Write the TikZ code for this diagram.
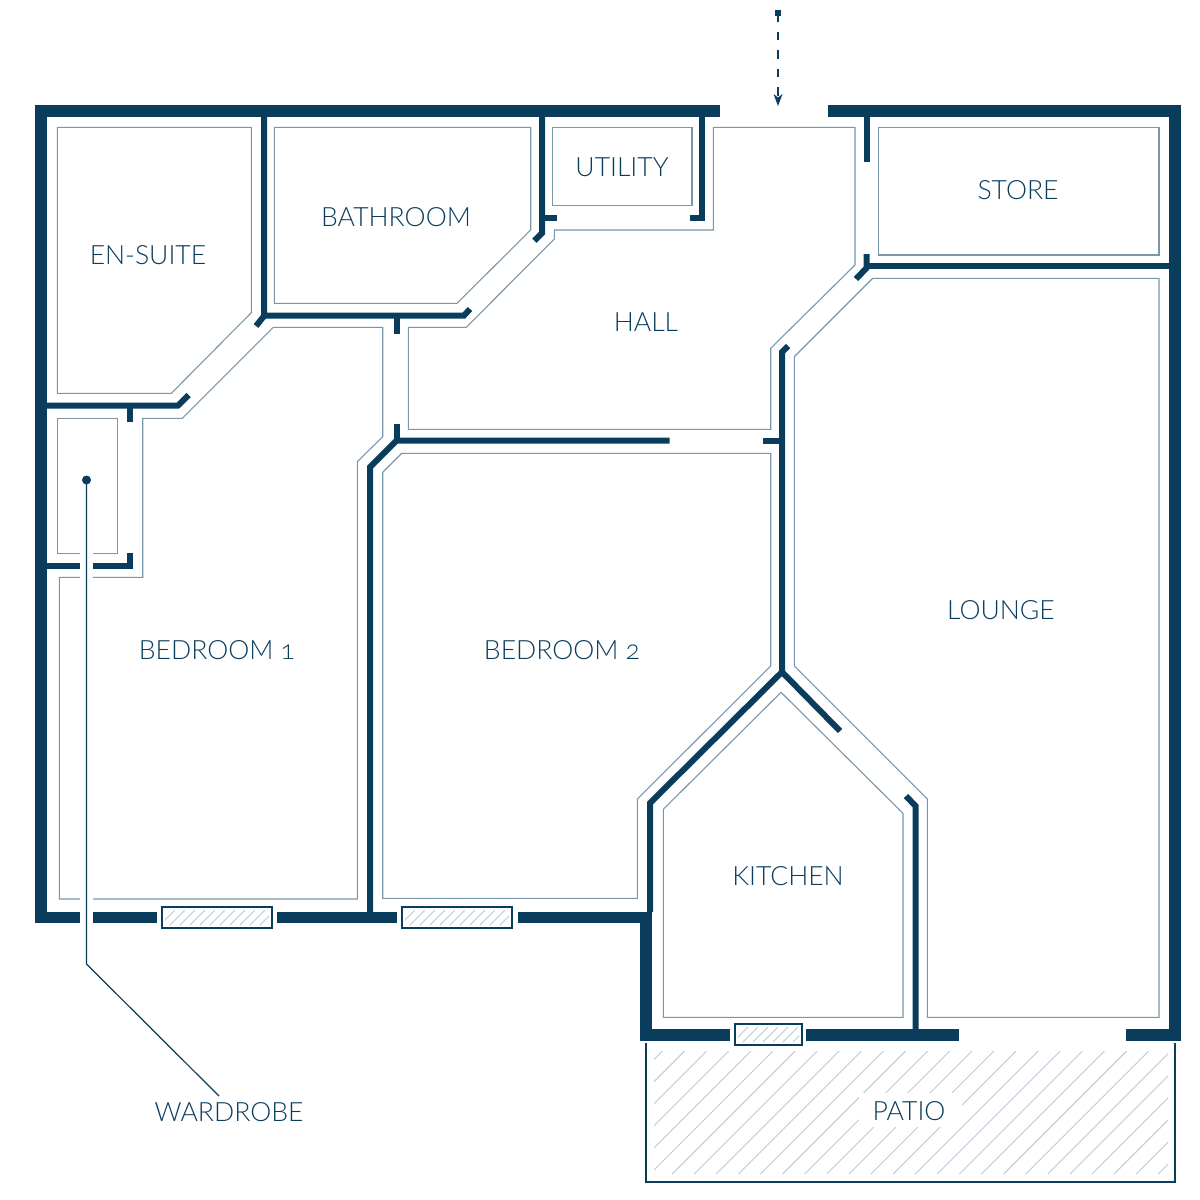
\documentclass[tikz,border=0pt]{standalone}
\usepackage{fontspec}
\setmainfont{Lato Light}[Numbers=OldStyle]
\definecolor{walldark}{HTML}{0A3D5C}
\definecolor{roomline}{HTML}{7A96AB}
\definecolor{hatchline}{HTML}{BCCAD6}
\tikzset{
	outerwall/.style={line width=.118cm,color=walldark},
	innerwall/.style={line width=.06cm,color=walldark},
	room/.style={line width=.011cm,color=roomline},
	roomlabel/.style={text=walldark,font=\fontsize{7.55pt}{9pt}\selectfont,inner sep=0pt},
	windowbox/.style={draw=walldark,line width=.012cm,fill=white},
	hatch/.style={line width=.009cm,color=hatchline},
	leader/.style={line width=.012cm,color=walldark}
}
\begin{document}
\begin{tikzpicture}[x=.01cm,y=-.01cm]
		\useasboundingbox (0,0) rectangle (1200,1200);
		% rooms
		\draw[room] (57.3,127.3) -- (251.3,127.3) -- (251.3,312.7) -- (171.3,393.3) -- (57.3,393.3) -- cycle;
		\draw[room] (274.3,127.3) -- (530.7,127.3) -- (530.7,230) -- (457,303.3) -- (274.3,303.3) -- cycle;
		\draw[room] (552.3,127.3) rectangle (692,205.3);
		\draw[room] (713.3,127.3) -- (855,127.3) -- (855,265) -- (770.7,348.3) -- (770.7,429.3) -- (408.3,429.3) -- (408.3,327.3) -- (466.3,327.3) -- (554.3,239) -- (554.3,230) -- (713.3,230) -- cycle;
		\draw[room] (878.3,127.3) rectangle (1159,255);
		\draw[room] (872.7,278.3) -- (1159,278.3) -- (1159,1017.3) -- (927.3,1017.3) -- (927.3,799) -- (794.3,666) -- (794.3,356.7) -- cycle;
		\draw[room] (273.3,327.3) -- (382.7,327.3) -- (382.7,436.7) -- (357.3,461.7) -- (357.3,899) -- (59.3,899) -- (59.3,577.3) -- (142.7,577.3) -- (142.7,418.3) -- (182.3,418.3) -- cycle;
		\draw[room] (57.3,418.3) rectangle (117.3,553.3);
		\draw[room] (401.7,453.3) -- (770.7,453.3) -- (770.7,666) -- (637.3,799) -- (637.3,898.3) -- (382.7,898.3) -- (382.7,472.3) -- cycle;
		\draw[room] (663.3,1017.3) -- (663.3,809.3) -- (781,692.3) -- (903,813.3) -- (903,1017.3) -- cycle;
		% outer walls
		\draw[outerwall] (720,111) -- (41,111) -- (41,917.5) -- (157,917.5);
		\draw[outerwall] (277,917.5) -- (397,917.5);
		\draw[outerwall] (518,917.5) -- (646,917.5) -- (646,1035) -- (730,1035);
		\draw[outerwall] (806,1035) -- (959,1035);
		\draw[outerwall] (1126,1035) -- (1175,1035) -- (1175,111) -- (828,111);
		% inner walls
		\draw[innerwall] (264,117) -- (264,316) -- (256,326);
		\draw[innerwall] (264,315.5) -- (464,315.5) -- (470,309);
		\draw[innerwall] (396.7,315) -- (396.7,334);
		\draw[innerwall] (41,405.5) -- (178,405.5) -- (188.7,395);
		\draw[innerwall] (130,405) -- (130,422);
		\draw[innerwall] (41,565.7) -- (130,565.7) -- (130,553);
		\draw[innerwall] (542,117) -- (542,233) -- (534.3,240.7);
		\draw[innerwall] (542,218) -- (557,218);
		\draw[innerwall] (702,117) -- (702,218) -- (690,218);
		\draw[innerwall] (866.5,117) -- (866.5,161.7);
		\draw[innerwall] (1169,266) -- (868,266);
		\draw[innerwall] (866.5,254) -- (866.5,268) -- (856,279);
		\draw[innerwall] (669.7,440.5) -- (396.7,440.5) -- (370,467) -- (370,912);
		\draw[innerwall] (396.7,424) -- (396.7,440);
		\draw[innerwall] (763,440.5) -- (782,440.5);
		\draw[innerwall] (650,912) -- (650,803) -- (782,672) -- (782,352) -- (788,346);
		\draw[innerwall] (782,672) -- (840,731);
		\draw[innerwall] (915.5,1030) -- (915.5,806) -- (906,796);
		% windows
		\node[windowbox,minimum width=1.10cm,minimum height=.21cm,inner sep=0pt] (windowbedone) at (217,917.5) {};
		\node[windowbox,minimum width=1.10cm,minimum height=.21cm,inner sep=0pt] (windowbedtwo) at (457,917.5) {};
		\node[windowbox,minimum width=.67cm,minimum height=.21cm,inner sep=0pt] (windowkitchen) at (768.5,1034.5) {};
		\begin{scope}
			\clip (165,910) rectangle (269,925);
			\foreach \k in {0,...,12}
			{
				\draw[hatch] (150 + \k * 10,925) -- (150 + \k * 10 + 15,910);
			}
		\end{scope}
		\begin{scope}
			\clip (405,910) rectangle (509,925);
			\foreach \k in {0,...,12}
			{
				\draw[hatch] (390 + \k * 10,925) -- (390 + \k * 10 + 15,910);
			}
		\end{scope}
		\begin{scope}
			\clip (738,1027) rectangle (799,1042);
			\foreach \k in {0,...,7}
			{
				\draw[hatch] (723 + \k * 10,1042) -- (723 + \k * 10 + 15,1027);
			}
		\end{scope}
		% patio
		\begin{scope}
			\clip (654,1051) rectangle (1168,1174);
			\foreach \k in {-6,...,24}
			{
				\draw[hatch] (650 + \k * 22.1,1174) -- (650 + \k * 22.1 + 123,1051);
			}
		\end{scope}
		\draw[line width=.02cm,color=walldark] (646,1043) -- (646,1182) -- (1175,1182) -- (1175,1043);
		\node[fill=white,minimum width=1.03cm,minimum height=.34cm,inner sep=0pt] (patiobox) at (910.5,1110) {};
		% labels
		\node[roomlabel] (ensuite) at (148,255) {EN-SUITE};
		\node[roomlabel] (bathroom) at (396,217) {BATHROOM};
		\node[roomlabel] (utility) at (622,167) {UTILITY};
		\node[roomlabel] (store) at (1018,190) {STORE};
		\node[roomlabel] (hall) at (646,322) {HALL};
		\node[roomlabel] (bedone) at (217,650) {BEDROOM 1};
		\node[roomlabel] (bedtwo) at (562,650) {BEDROOM 2};
		\node[roomlabel] (lounge) at (1001,610) {LOUNGE};
		\node[roomlabel] (kitchen) at (788,876) {KITCHEN};
		\node[roomlabel] (patio) at (909,1111) {PATIO};
		\node[roomlabel] (wardrobe) at (229,1112) {WARDROBE};
		% wardrobe leader
		\draw[white,line width=.125cm] (86.5,550) -- (86.5,928);
		\coordinate (wardrobedot) at (86.5,480);
		\coordinate (wardrobebend) at (86.5,964);
		\coordinate (wardrobeend) at (219,1096);
		\fill[walldark] (wardrobedot) circle (4.5);
		\draw[leader] (wardrobedot) -- (wardrobebend) -- (wardrobeend);
		% entrance
		\coordinate (doorstart) at (778,13);
		\coordinate (doorend) at (778,106);
		\fill[walldark] (775.3,10) rectangle (781,16);
		\draw[leader,dash pattern=on .085cm off .1cm] (doorstart) -- (778,96);
		\fill[walldark] (doorend) -- (773.5,94) -- (778,97.5) -- (782.5,94) -- cycle;
		\end{tikzpicture}
\end{document}
